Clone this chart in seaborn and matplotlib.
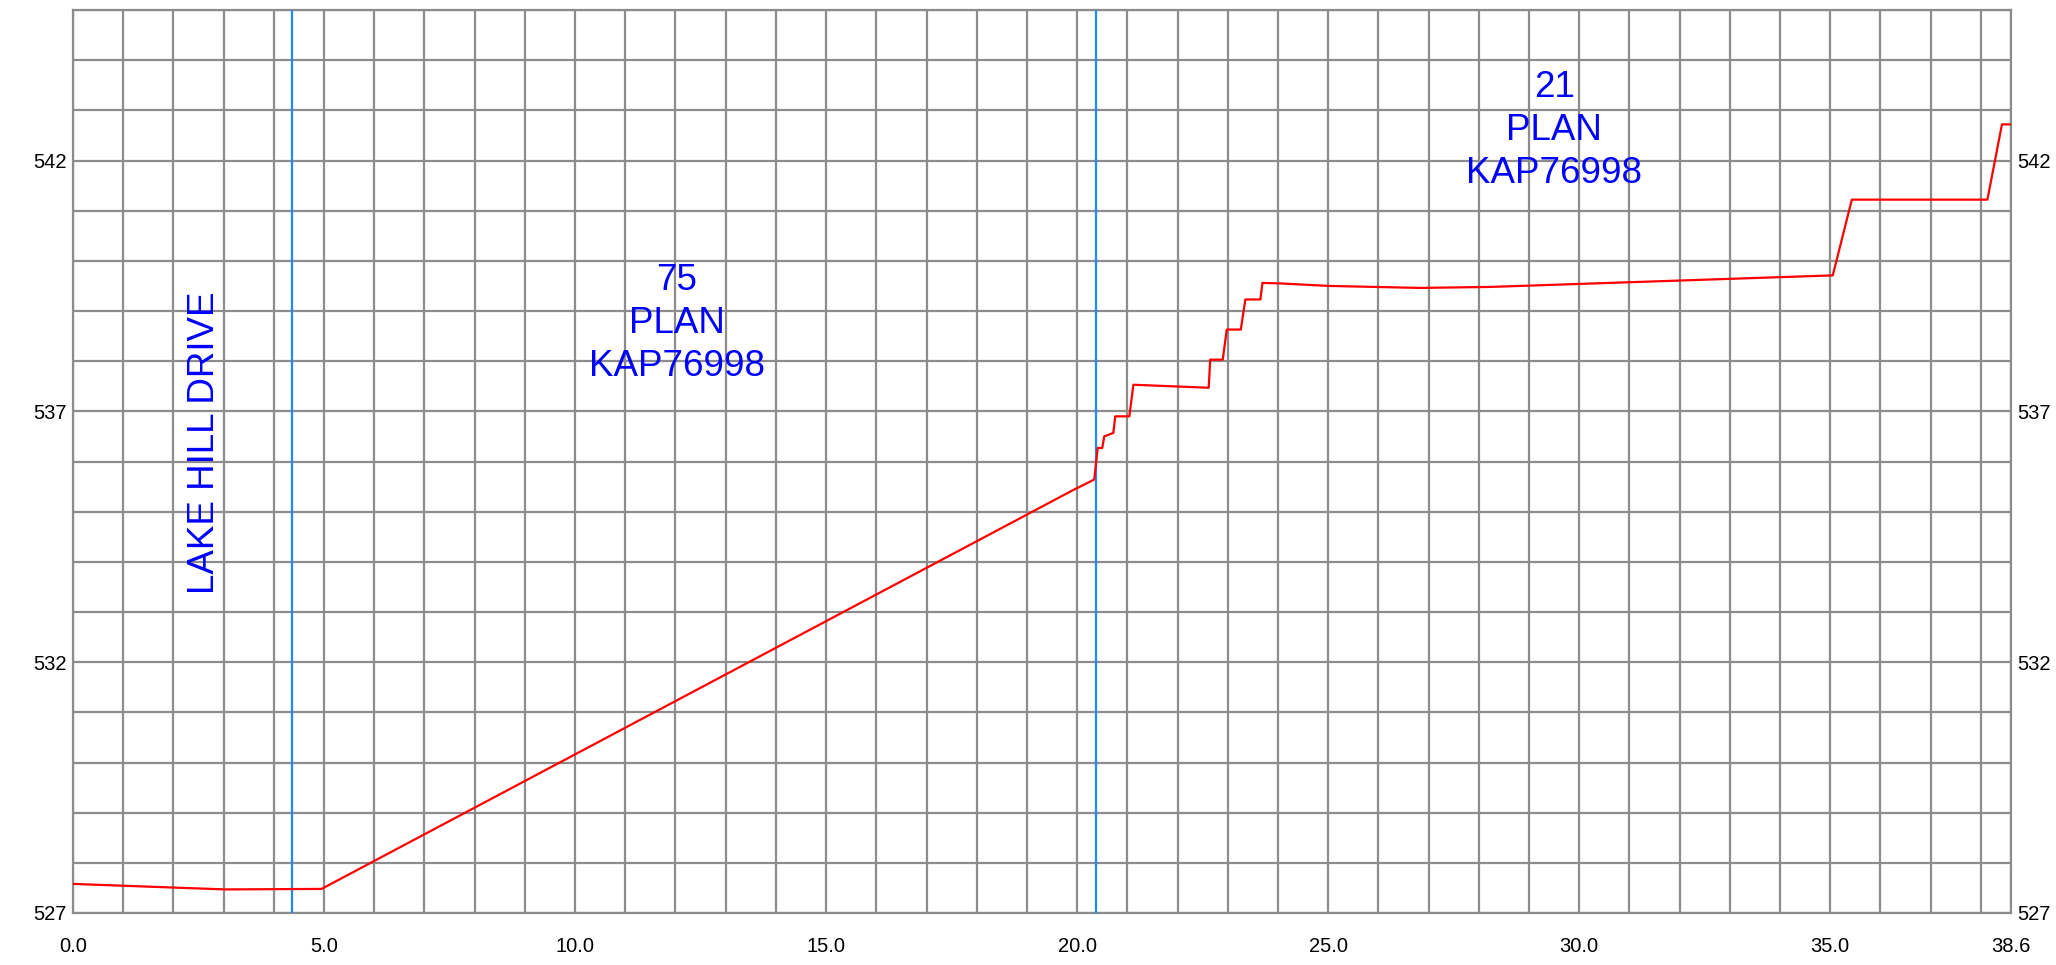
import matplotlib
matplotlib.use("Agg")
import matplotlib.pyplot as plt
import seaborn as sns
import pandas as pd
import numpy as np

# ---- data ----
chainage = [0.0, 3.03, 4.95, 19.9, 20.34, 20.41, 20.50, 20.54, 20.72, 20.76, 21.04, 21.12,
            22.62, 22.65, 22.90, 22.98, 23.26, 23.35, 23.65, 23.69, 24.04, 25.01, 26.83,
            28.23, 35.05, 35.43, 38.13, 38.42, 38.6]
elevation = [527.58, 527.47, 527.48, 535.42, 535.64, 536.27, 536.27, 536.50, 536.57, 536.90, 536.90, 537.53,
             537.47, 538.03, 538.03, 538.63, 538.63, 539.23, 539.23, 539.56, 539.55, 539.50, 539.46,
             539.48, 539.71, 541.22, 541.22, 542.72, 542.72]
boundaries = [4.37, 20.37]
labels_text = ["LAKE HILL DRIVE", "75\nPLAN\nKAP76998", "21\nPLAN\nKAP76998"]
labels_x = [2.61, 12.03, 29.5]
labels_y = [536.38, 538.75, 542.6]
labels_rot = [90, 0, 0]
xtick_vals = [0, 5, 10, 15, 20, 25, 30, 35, 38.6]
ytick_vals = [527, 532, 537, 542]

sns.set_style("white")
plt.rcParams['font.family'] = ['Liberation Sans', 'DejaVu Sans']

fig = plt.figure(figsize=(20.56, 9.65), dpi=100)
ax = fig.add_axes([73/2056, 1-913/965, (2011-73)/2056, (913-10)/965])

df = pd.DataFrame({"x": chainage, "y": elevation})
sns.lineplot(data=df, x="x", y="y", sort=False, color="#ff0000", linewidth=1.6, ax=ax, zorder=5)

for b in boundaries:
    ax.axvline(b, color="#1e88ff", linewidth=1.6, zorder=4)

for t, x, y, r in zip(labels_text, labels_x, labels_y, labels_rot):
    ax.text(x, y, t, color="#0000ff", fontsize=26.5, ha="center", va="center",
            rotation=r, linespacing=1.3, zorder=6)

ax.set_xlim(0, 38.6)
ax.set_ylim(527, 545)
ax.set_xticks(xtick_vals)
ax.set_xticklabels([f"{v:.1f}" for v in xtick_vals])
ax.set_yticks(ytick_vals)
ax.set_yticklabels([str(v) for v in ytick_vals])
ax.set_xticks(np.arange(0, 39, 1), minor=True)
ax.set_yticks(np.arange(527, 546, 1), minor=True)
ax.grid(True, which="both", color="#8c8c8c", linewidth=1.6, zorder=1)
ax.set_axisbelow(True)
ax.tick_params(axis="both", which="both", length=0, labelsize=14.5, colors="black")
ax.tick_params(axis="x", which="both", pad=17)
ax.tick_params(axis="y", which="both", labelright=True, right=False, pad=4.5)
ax.set_xlabel("")
ax.set_ylabel("")
for s in ax.spines.values():
    s.set_color("#8c8c8c")
    s.set_linewidth(1.6)

fig.savefig("out.png", dpi=100)
